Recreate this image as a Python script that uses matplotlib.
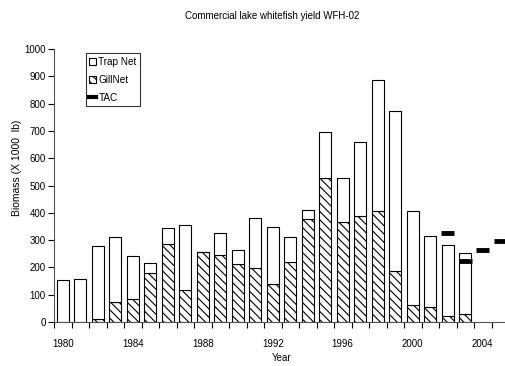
import matplotlib.pyplot as plt
import numpy as np

# data
years = list(range(1980, 2006))
gillnet = [0, 0, 12, 72, 83, 181, 285, 117, 257, 246, 214, 196, 140,
           218, 376, 528, 367, 390, 406, 185, 63, 55, 23, 29]
trapnet = [153, 159, 265, 238, 157, 35, 58, 239, 0, 81, 49, 184, 208,
           95, 34, 168, 162, 268, 480, 588, 343, 261, 258, 225]
tac_years = [2002, 2003, 2004, 2005]
tac = [325, 222, 262, 298]
tick_years = [1980, 1984, 1988, 1992, 1996, 2000, 2004]

plt.rcParams['font.family'] = ['Liberation Sans', 'DejaVu Sans']
plt.rcParams['hatch.linewidth'] = 0.8

fig = plt.figure(figsize=(5.05, 3.66), dpi=100)
ax = fig.add_axes([54 / 505, 1 - 322 / 366, 455 / 505, (322 - 49) / 366])

x = np.arange(len(gillnet))
w = 0.67
ax.bar(x, gillnet, width=w, color='white', edgecolor='black', linewidth=0.8,
       hatch='\\\\\\\\', label='GillNet')
ax.bar(x, trapnet, width=w, bottom=gillnet, color='white', edgecolor='black',
       linewidth=0.8, label='Trap Net')

tx = [years.index(y) for y in tac_years]
ax.errorbar(tx, tac, xerr=0.37, fmt='none', ecolor='black', elinewidth=3.5,
            capsize=0)
ax.plot([], [], color='black', linewidth=3, label='TAC')

ax.set_xlim(-0.5, 25.5)
ax.set_ylim(0, 1000)
ax.set_yticks(range(0, 1001, 100))
ax.set_xticks(np.arange(-0.5, 26, 1))
ax.set_xticklabels([])
ax.set_xticks([years.index(y) for y in tick_years], minor=True)
ax.set_xticklabels([str(y) for y in tick_years], minor=True)
ax.tick_params(axis='x', which='minor', length=0, pad=12, labelsize=7)
ax.tick_params(axis='x', which='major', length=4, width=0.8, direction='out')
ax.tick_params(axis='y', length=4, width=0.8, labelsize=7, pad=2)

for s in ['top', 'right']:
    ax.spines[s].set_visible(False)
for s in ['left', 'bottom']:
    ax.spines[s].set_color('#555555')

fig.text(282 / 505, 1 - 358 / 366, 'Year', ha='center', va='center', fontsize=7)
fig.text(17 / 505, 1 - 168 / 366, 'Biomass (X 1000  lb)', rotation=90,
         ha='center', va='center', fontsize=7.5)
fig.text(272 / 505, 1 - 16 / 366, 'Commercial lake whitefish yield WFH-02',
         ha='center', va='center', fontsize=7)

h, l = ax.get_legend_handles_labels()
order = [l.index('Trap Net'), l.index('GillNet'), l.index('TAC')]
leg = ax.legend([h[i] for i in order], [l[i] for i in order],
                loc='upper left', bbox_to_anchor=(0.07, 0.985), fontsize=7.2,
                frameon=True, fancybox=False, handlelength=0.7,
                handleheight=0.7, handletextpad=0.2, borderpad=0.35,
                labelspacing=0.8, edgecolor='black', borderaxespad=0)
leg.get_frame().set_linewidth(0.8)

fig.savefig('out.png', dpi=100)
